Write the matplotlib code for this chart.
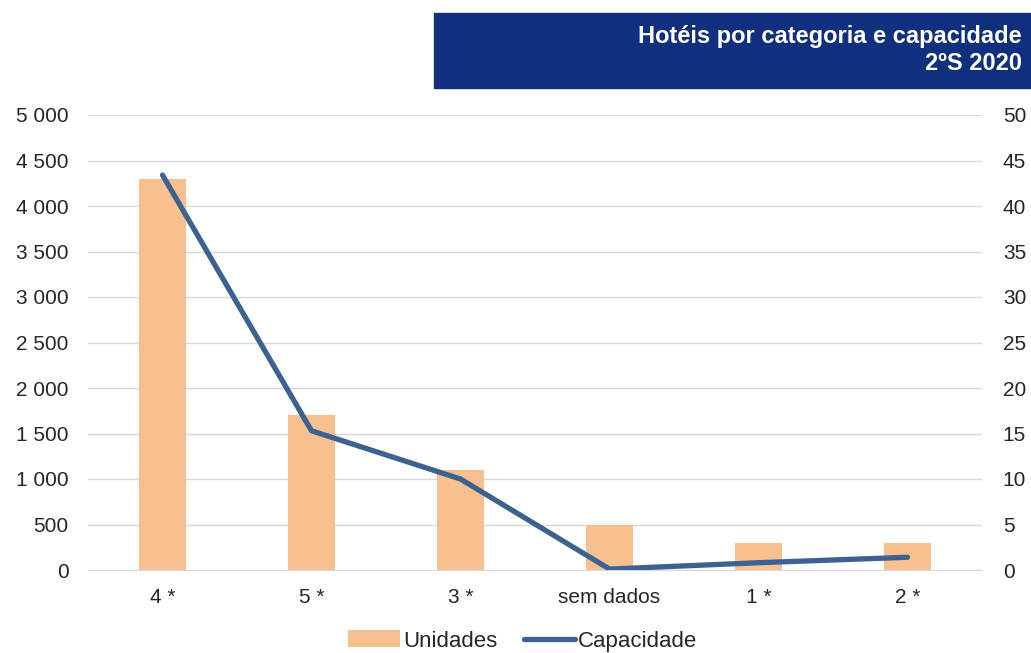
import matplotlib
matplotlib.use("Agg")
import matplotlib.pyplot as plt
from matplotlib.patches import Rectangle
from matplotlib.ticker import FuncFormatter

categories = ["4 *", "5 *", "3 *", "sem dados", "1 *", "2 *"]
unidades = [4300, 1700, 1100, 500, 300, 300]
capacidade = [43.4, 15.3, 10.0, 0.1, 0.8, 1.4]
left_ticks = list(range(0, 5001, 500))
right_ticks = list(range(0, 51, 5))

plt.rcParams['font.family'] = ['Liberation Sans', 'DejaVu Sans']

W, H = 1031, 653
fig = plt.figure(figsize=(W / 100, H / 100), dpi=100)
ax = fig.add_axes([88 / W, 1 - 570 / H, (982 - 88) / W, (570 - 115) / H])
ax2 = ax.twinx()

x = list(range(len(categories)))
bars = ax.bar(x, unidades, width=0.32, color="#F8C08F", label="Unidades", zorder=2)
line, = ax2.plot(x, capacidade, color="#3B6290", lw=3.8, solid_capstyle="round",
                 label="Capacidade", zorder=3)

ax.set_xlim(-0.5, len(categories) - 0.5)
ax.set_ylim(0, 5000)
ax2.set_ylim(0, 50)
ax.set_yticks(left_ticks)
ax2.set_yticks(right_ticks)
ax.yaxis.set_major_formatter(FuncFormatter(lambda v, p: f"{int(v):,}".replace(",", " ")))
ax.set_xticks(x)
ax.set_xticklabels(categories)

ax.grid(axis="y", color="#D9D9D9", lw=1, zorder=0)
ax.set_axisbelow(True)
for a in (ax, ax2):
    for s in a.spines.values():
        s.set_visible(False)
    a.tick_params(length=0, labelsize=15, labelcolor="#262626")
ax.spines["bottom"].set_visible(True)
ax.spines["bottom"].set_color("#D9D9D9")
ax.tick_params(axis="y", pad=14)
ax2.tick_params(axis="y", pad=15)
ax.tick_params(axis="x", pad=13)

leg = fig.legend([bars, line], ["Unidades", "Capacidade"], loc="center",
                 bbox_to_anchor=(523 / W, 1 - 641 / H), ncol=2, frameon=False,
                 fontsize=16, handlelength=2.3, handleheight=0.8, columnspacing=1.2,
                 handletextpad=0.15)
for t in leg.get_texts():
    t.set_color("#262626")

fig.patches.append(Rectangle((434 / W, 1 - 88 / H), (W - 434) / W, 75 / H,
                             transform=fig.transFigure, color="#10307F", zorder=0))
fig.text(1022 / W, 1 - 37 / H, "Hotéis por categoria e capacidade", ha="right", va="center",
         color="white", fontsize=17, fontweight="bold")
fig.text(1022 / W, 1 - 64 / H, "2ºS 2020", ha="right", va="center",
         color="white", fontsize=17, fontweight="bold")

fig.savefig("out.png", dpi=100)
